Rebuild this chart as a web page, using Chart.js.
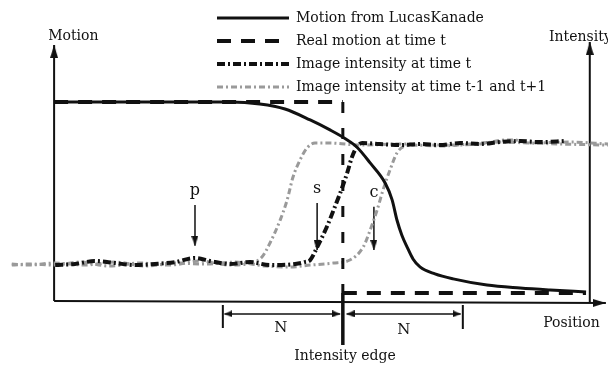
<!DOCTYPE html>
<html>
<head>
<meta charset="utf-8">
<title>Motion vs intensity edge</title>
<script src="https://cdn.jsdelivr.net/npm/chart.js@4.4.1/dist/chart.umd.min.js"></script>
<style>
  html, body { margin: 0; padding: 0; background: #fff; }
  canvas { display: block; }
</style>
</head>
<body>
<canvas id="edgeChart" width="608" height="366"></canvas>
<script>
// position runs 0 (motion axis) .. 100 (intensity axis)
// motion: 0 = no motion, 1 = full motion ; intensity: 0 = dark side, 1 = bright side
var lkX = [0, 32.8, 38.4, 43.1, 47.8, 51.5, 54.3, 56.5, 59.0, 61.8, 63.1, 64.0, 64.9, 65.9, 67.0, 68.3, 71.1, 74.5, 80.8, 87.0, 92.6, 99.3];
var lkMotion = [1.0, 1.0, 0.99, 0.965, 0.91, 0.86, 0.817, 0.774, 0.694, 0.593, 0.508, 0.407, 0.332, 0.271, 0.211, 0.171, 0.136, 0.111, 0.08, 0.065, 0.055, 0.045];

var realX = [0, 53.9, 53.9, 99.3];
var realMotion = [1, 1, 0.04, 0.04];

var intX = [0.2, 3.9, 7.6, 11.4, 15.1, 18.8, 22.6, 26.3, 29.1, 32.8, 36.6, 40.3, 45.0, 46.8, 47.8, 49.3, 50.9, 52.4, 53.4, 54.7, 55.6, 56.5, 57.5, 60.8, 64.6, 68.3, 72.0, 75.8, 79.5, 83.2, 87.0, 90.7, 95.4];
var intValues = [-0.017, -0.008, 0.017, 0, -0.017, -0.008, 0.008, 0.042, 0.017, -0.008, 0.008, -0.017, -0.008, 0.008, 0.025, 0.15, 0.3, 0.467, 0.583, 0.75, 0.883, 0.967, 1.0, 0.992, 0.983, 0.992, 0.983, 1.0, 0.992, 1.008, 1.017, 1.008, 1.017];

var prevX = [-7.9, -4.5, 0, 4.8, 10.4, 16.0, 21.6, 27.2, 32.8, 36.6, 38.8, 40.3, 42.2, 43.5, 44.6, 45.9, 47.2, 48.7, 51.5, 57.1, 64.6, 72.0, 79.5, 84.2, 86.0, 88.8, 96.3, 103.4];
var prevValues = [-0.017, -0.008, -0.017, 0.008, -0.025, 0, -0.017, 0.017, -0.017, 0, 0.05, 0.167, 0.358, 0.525, 0.717, 0.858, 0.958, 1.0, 1.0, 0.983, 0.992, 0.983, 0.992, 1.025, 1.025, 1.0, 1.008, 0.992];

var nextX = [-7.9, -4.5, 0, 5.8, 11.4, 17.0, 22.6, 28.2, 33.8, 39.4, 44.0, 47.8, 52.1, 55.2, 57.7, 59.0, 60.3, 61.4, 62.7, 64.0, 65.1, 67.0, 72.0, 77.6, 83.2, 88.8, 94.4, 103.4];
var nextValues = [-0.008, -0.017, 0, -0.017, 0.008, -0.025, 0, -0.008, 0.008, -0.025, -0.033, -0.017, 0, 0.025, 0.133, 0.275, 0.442, 0.608, 0.775, 0.917, 0.967, 0.983, 0.975, 0.992, 1.008, 1.0, 0.992, 0.983];

// legend texts
var seriesNames = ['Motion from LucasKanade', 'Real motion at time t', 'Image intensity at time t', 'Image intensity at time t-1 and t+1'];

// marker arrows p, s, c (position, top of shaft, tip)
var markerNames = ['p', 's', 'c'];
var markerX = [26.3, 49.1, 59.7];
var markerTop = [0.483, 0.493, 0.473];
var markerTip = [0.277, 0.256, 0.256];

// N brackets either side of the edge
var edgeX = 53.9;
var bracketLeftX = 31.5;
var bracketRightX = 76.3;

function pts(xs, ys) {
  return xs.map(function (x, i) { return { x: x, y: ys[i] }; });
}

// narrow arrow head, tip sits in the middle of the canvas so it lands on the point
function arrowHead(len, wid) {
  var c = document.createElement('canvas');
  c.width = wid;
  c.height = len * 2;
  var g = c.getContext('2d');
  g.fillStyle = '#111';
  g.beginPath();
  g.moveTo(wid / 2, len);
  g.lineTo(wid, len * 2);
  g.lineTo(0, len * 2);
  g.closePath();
  g.fill();
  return c;
}

var bigHead = arrowHead(13, 8);
var smallHead = arrowHead(10, 7);
var tinyHead = arrowHead(8, 7);

function arrowLine(data, head, rot, width) {
  return {
    data: data,
    yAxisID: 'y',
    borderColor: '#111',
    borderWidth: width,
    pointRadius: data.map(function (d, i) { return rot[i] === null ? 0 : 5; }),
    pointStyle: head,
    pointRotation: rot.map(function (r) { return r === null ? 0 : r; }),
    tension: 0
  };
}

var serif = 'DejaVu Serif';

// text labels, positions in data units
var labels = [
  { text: 'Motion', x: -1.1, y: 1.332, align: 'left', size: 14 },
  { text: 'Intensity', x: 92.4, y: 1.327, align: 'left', size: 14 },
  { text: 'Position', x: 91.3, y: -0.111, align: 'left', size: 14 },
  { text: 'N', x: 42.3, y: -0.136, align: 'center', size: 15 },
  { text: 'N', x: 65.3, y: -0.146, align: 'center', size: 15 },
  { text: 'Intensity edge', x: 54.3, y: -0.277, align: 'center', size: 14 }
];

var textPlugin = {
  id: 'textLabels',
  afterLayout: function (chart) {
    // park the legend in the upper middle
    chart.legend.left = 208;
    chart.legend.top = 2;
  },
  afterDatasetsDraw: function (chart) {
    var ctx = chart.ctx;
    var xs = chart.scales.x, ys = chart.scales.y;
    ctx.save();
    ctx.fillStyle = '#111';
    ctx.textBaseline = 'middle';
    labels.forEach(function (l) {
      ctx.font = l.size + 'px "' + serif + '"';
      ctx.textAlign = l.align;
      ctx.fillText(l.text, xs.getPixelForValue(l.x), ys.getPixelForValue(l.y));
    });
    ctx.font = '16px "' + serif + '"';
    ctx.textAlign = 'center';
    markerNames.forEach(function (m, i) {
      ctx.fillText(m, xs.getPixelForValue(markerX[i]), ys.getPixelForValue(markerTop[i] + 0.07));
    });
    ctx.restore();
  }
};

document.addEventListener('DOMContentLoaded', function () {
  var datasets = [
    {
      label: seriesNames[0],
      data: pts(lkX, lkMotion),
      yAxisID: 'y',
      borderColor: '#111',
      borderWidth: 3,
      cubicInterpolationMode: 'monotone',
      pointRadius: 0
    },
    {
      label: seriesNames[1],
      data: pts(realX, realMotion),
      yAxisID: 'y',
      borderColor: '#111',
      borderWidth: 4,
      borderDash: [14, 10],
      pointRadius: 0,
      tension: 0,
      segment: {
        // the drop at the edge is drawn with shorter, thinner dashes
        borderDash: function (ctx) { return ctx.p0.parsed.x === ctx.p1.parsed.x ? [11, 15] : undefined; },
        borderWidth: function (ctx) { return ctx.p0.parsed.x === ctx.p1.parsed.x ? 3 : undefined; }
      }
    },
    {
      label: seriesNames[2],
      data: pts(intX, intValues),
      yAxisID: 'y2',
      borderColor: '#111',
      borderWidth: 4,
      borderDash: [8, 3, 2, 3],
      cubicInterpolationMode: 'monotone',
      pointRadius: 0
    },
    {
      label: seriesNames[3],
      data: pts(prevX, prevValues),
      yAxisID: 'y2',
      borderColor: '#9a9a9a',
      borderWidth: 3,
      borderDash: [6, 3, 2, 3],
      cubicInterpolationMode: 'monotone',
      pointRadius: 0
    },
    {
      data: pts(nextX, nextValues),
      yAxisID: 'y2',
      borderColor: '#9a9a9a',
      borderWidth: 3,
      borderDash: [6, 3, 2, 3],
      cubicInterpolationMode: 'monotone',
      pointRadius: 0
    },
    // axes
    arrowLine([{ x: 0, y: 0 }, { x: 0, y: 1.287 }], bigHead, [null, 0], 2),
    arrowLine([{ x: 100, y: -0.01 }, { x: 100, y: 1.302 }], bigHead, [null, 0], 2),
    arrowLine([{ x: 0, y: 0 }, { x: 103.0, y: -0.01 }], bigHead, [null, 90], 2),
    // N brackets
    arrowLine([{ x: bracketLeftX, y: -0.02 }, { x: bracketLeftX, y: -0.136 }], bigHead, [null, null], 2),
    arrowLine([{ x: bracketRightX, y: -0.02 }, { x: bracketRightX, y: -0.141 }], bigHead, [null, null], 2),
    arrowLine([{ x: edgeX, y: 0.04 }, { x: edgeX, y: -0.221 }], bigHead, [null, null], 3.5),
    arrowLine([{ x: bracketLeftX + 0.3, y: -0.065 }, { x: edgeX - 0.5, y: -0.065 }], tinyHead, [270, 90], 1.5),
    arrowLine([{ x: edgeX + 0.7, y: -0.065 }, { x: bracketRightX - 0.4, y: -0.065 }], tinyHead, [270, 90], 1.5)
  ];

  // p, s, c arrows
  markerX.forEach(function (x, i) {
    datasets.push(arrowLine([{ x: x, y: markerTop[i] }, { x: x, y: markerTip[i] }], smallHead, [null, 180], 1.5));
  });

  new Chart(document.getElementById('edgeChart'), {
    type: 'line',
    data: { datasets: datasets },
    options: {
      responsive: false,
      devicePixelRatio: 1,
      animation: false,
      layout: { padding: 0, autoPadding: false },
      scales: {
        x: { type: 'linear', display: false, min: -10.1, max: 103.4 },
        y: { display: false, min: -0.327, max: 1.513 },
        y2: { display: false, min: -0.858, max: 2.192 }
      },
      plugins: {
        tooltip: { enabled: false },
        legend: {
          position: 'chartArea',
          align: 'start',
          labels: {
            usePointStyle: true,
            pointStyleWidth: 72,
            padding: 9,
            color: '#111',
            font: { family: serif, size: 14 },
            generateLabels: function (chart) {
              return chart.data.datasets.filter(function (d) { return d.label; }).map(function (d, i) {
                return {
                  text: d.label,
                  fillStyle: d.borderColor,
                  strokeStyle: d.borderColor,
                  lineWidth: d.borderWidth,
                  lineDash: d.borderDash || [],
                  pointStyle: 'line',
                  fontColor: '#111',
                  hidden: false,
                  datasetIndex: i
                };
              });
            }
          }
        }
      }
    },
    plugins: [textPlugin]
  });
});
</script>
</body>
</html>
